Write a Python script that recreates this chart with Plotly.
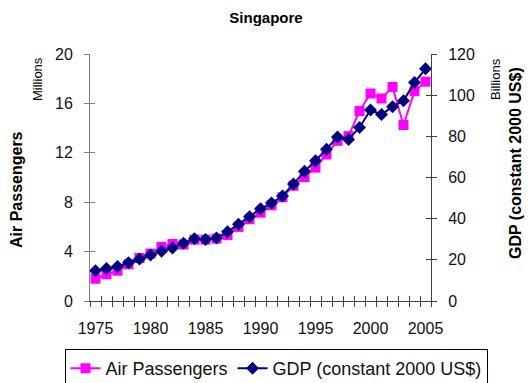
import plotly.graph_objects as go

years = list(range(1975, 2006))
air_passengers = [1.8, 2.16, 2.45, 2.97, 3.48, 3.84, 4.38, 4.62, 4.57, 4.97, 4.97,
                  5.05, 5.33, 6.0, 6.62, 7.15, 7.75, 8.4, 9.33, 10.03, 10.8,
                  11.87, 12.97, 13.35, 15.38, 16.8, 16.4, 17.33, 14.25, 16.98, 17.76]
gdp = [14.7, 15.8, 16.8, 18.6, 20.4, 22.3, 24.2, 25.8, 28.0, 30.3, 29.9,
       30.6, 33.6, 37.3, 40.9, 44.8, 47.6, 51.0, 56.9, 63.0, 68.1,
       73.7, 79.7, 78.5, 84.3, 92.8, 90.6, 94.4, 97.3, 106.2, 112.8]
x_tick_labels = [1975, 1980, 1985, 1990, 1995, 2000, 2005]
left_ticks = [0, 4, 8, 12, 16, 20]
right_ticks = [0, 20, 40, 60, 80, 100, 120]

FONT = "Liberation Sans, Arial, sans-serif"
W, H = 531, 383
boundaries = [y - 0.5 for y in years] + [years[-1] + 0.5]
xrange = [years[0] - 0.5, years[-1] + 0.5]
xdom = [90 / W, 431 / W]
ydom = [(H - 301) / H, (H - 54) / H]


def px(x):
    return x / W


def py(y):
    return 1 - y / H


fig = go.Figure()
fig.add_trace(go.Scatter(
    x=years, y=air_passengers, name="Air Passengers", mode="lines+markers",
    line=dict(color="#FF00FF", width=2),
    marker=dict(symbol="square", size=10, color="#FF00FF"),
    xaxis="x", yaxis="y"))
fig.add_trace(go.Scatter(
    x=years, y=gdp, name="GDP (constant 2000 US$)", mode="lines+markers",
    line=dict(color="#000080", width=2),
    marker=dict(symbol="diamond", size=10, color="#000080"),
    xaxis="x", yaxis="y2"))
# helper invisible traces so overlay axes (inside ticks) are drawn
fig.add_trace(go.Scatter(x=[None], y=[None], xaxis="x2", yaxis="y3",
                         showlegend=False, hoverinfo="skip"))
fig.add_trace(go.Scatter(x=[None], y=[None], xaxis="x3", yaxis="y4",
                         showlegend=False, hoverinfo="skip"))

tickfont = dict(family=FONT, size=16, color="#111")
common = dict(showgrid=False, zeroline=False)

fig.update_layout(
    width=W, height=H,
    margin=dict(l=0, r=0, t=0, b=0, autoexpand=False),
    paper_bgcolor="white", plot_bgcolor="white",
    font=dict(family=FONT, color="#000"),
    title=dict(text="<b>Singapore</b>", x=px(266), xanchor="center", y=py(18),
               yanchor="middle", font=dict(family=FONT, size=15, color="#000")),
    showlegend=True,
    legend=dict(orientation="h", x=px(276), xanchor="center", y=py(349), yanchor="top",
                bordercolor="#000", borderwidth=1, font=dict(family=FONT, size=18, color="#111"),
                itemwidth=30, tracegroupgap=0),
    xaxis=dict(domain=xdom, range=xrange, tickvals=x_tick_labels, ticks="", showline=True,
               linecolor="#404040", linewidth=1, tickfont=tickfont,
               ticklabelstandoff=13, anchor="y", **common),
    xaxis2=dict(domain=xdom, range=xrange, overlaying="x", anchor="y", tickvals=boundaries,
                ticks="outside", ticklen=5, tickcolor="#404040", showticklabels=False,
                showline=False, **common),
    xaxis3=dict(domain=xdom, range=xrange, overlaying="x", anchor="y", tickvals=boundaries,
                ticks="inside", ticklen=5, tickcolor="#404040", showticklabels=False,
                showline=False, **common),
    yaxis=dict(domain=ydom, range=[0, 20], tickvals=left_ticks, ticks="outside", ticklen=5,
               tickcolor="#808080", showline=True, linecolor="#808080", linewidth=1,
               tickfont=tickfont, ticklabelstandoff=8, anchor="x", **common),
    yaxis3=dict(domain=ydom, range=[0, 20], overlaying="y", side="left", anchor="x",
                tickvals=left_ticks, ticks="inside", ticklen=5, tickcolor="#808080",
                showticklabels=False, showline=False, **common),
    yaxis2=dict(domain=ydom, range=[0, 120], overlaying="y", side="right", anchor="x",
                tickvals=right_ticks, ticks="outside", ticklen=5, tickcolor="#404040",
                showline=True, linecolor="#404040", linewidth=1,
                tickfont=tickfont, ticklabelstandoff=8, **common),
    yaxis4=dict(domain=ydom, range=[0, 120], overlaying="y", side="right", anchor="x",
                tickvals=right_ticks, ticks="inside", ticklen=5, tickcolor="#404040",
                showticklabels=False, showline=False, **common),
    annotations=[
        dict(text="<b>Air Passengers</b>", xref="paper", yref="paper",
             x=px(16), y=py(190), textangle=-90, showarrow=False,
             font=dict(family=FONT, size=16), xanchor="center", yanchor="middle"),
        dict(text="Millions", xref="paper", yref="paper", x=px(37), y=py(79),
             textangle=-90, showarrow=False, font=dict(family=FONT, size=13),
             xanchor="center", yanchor="middle"),
        dict(text="Billions", xref="paper", yref="paper", x=px(495), y=py(79),
             textangle=-90, showarrow=False, font=dict(family=FONT, size=13),
             xanchor="center", yanchor="middle"),
        dict(text="<b>GDP (constant 2000 US$)</b>", xref="paper", yref="paper",
             x=px(515), y=py(163), textangle=-90, showarrow=False,
             font=dict(family=FONT, size=16), xanchor="center", yanchor="middle"),
    ],
)

fig.write_html("out.html", config={"displayModeBar": False},
               post_script="document.body.style.margin='0px';")
